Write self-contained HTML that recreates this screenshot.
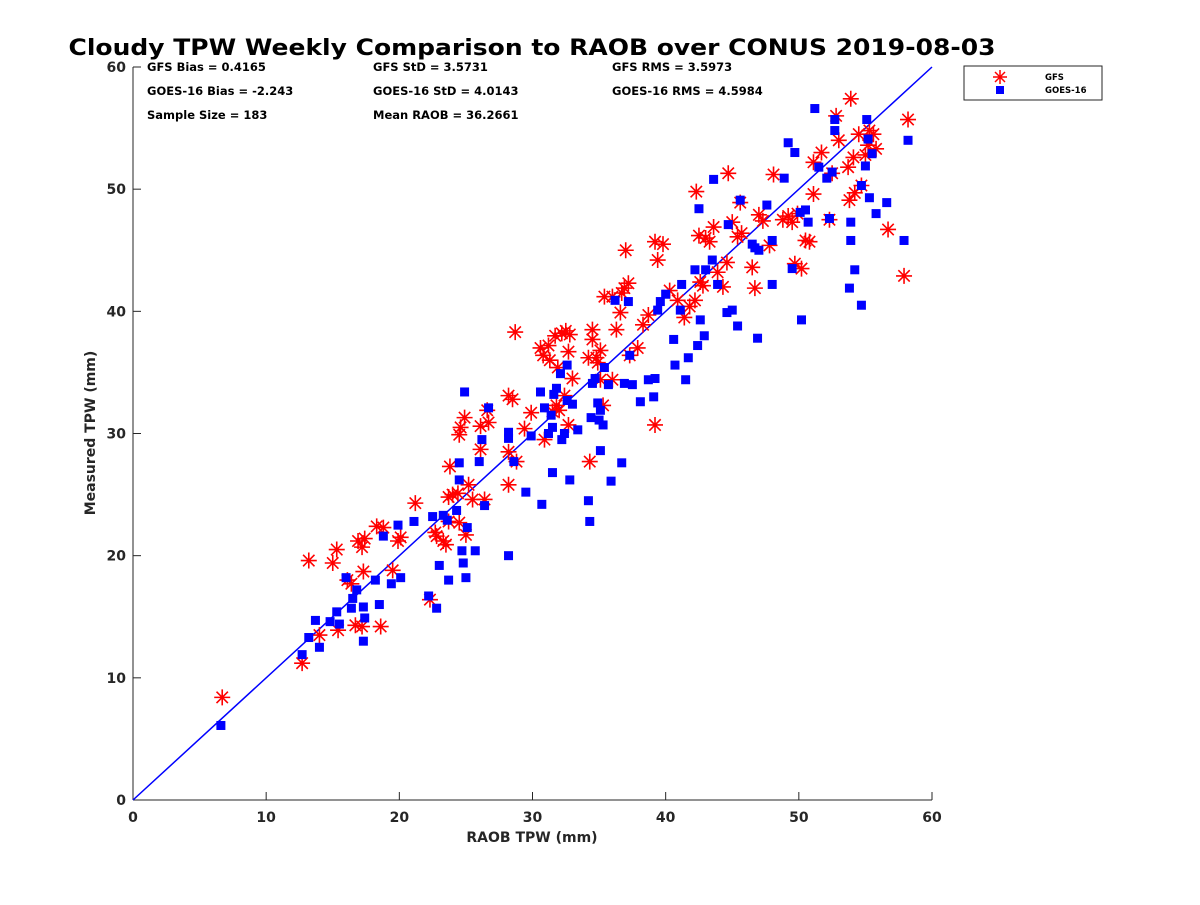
<!DOCTYPE html>
<html><head><meta charset="utf-8"><style>
body{margin:0;background:#fff;font-family:"Liberation Sans",sans-serif}
svg text{font-family:"DejaVu Sans","Liberation Sans",sans-serif;font-weight:bold}
</style></head><body>
<svg id="c" width="1200" height="900" xmlns="http://www.w3.org/2000/svg">
<text x="532" y="55" font-size="22" text-anchor="middle" textLength="927" lengthAdjust="spacingAndGlyphs">Cloudy TPW Weekly Comparison to RAOB over CONUS 2019-08-03</text>
<g font-size="11.5">
<text x="147" y="71">GFS Bias = 0.4165</text>
<text x="373" y="71">GFS StD = 3.5731</text>
<text x="612" y="71">GFS RMS = 3.5973</text>
<text x="147" y="95">GOES-16 Bias = -2.243</text>
<text x="373" y="95">GOES-16 StD = 4.0143</text>
<text x="612" y="95">GOES-16 RMS = 4.5984</text>
<text x="147" y="119">Sample Size = 183</text>
<text x="373" y="119">Mean RAOB = 36.2661</text>
</g>
<text x="532" y="842" font-size="14" text-anchor="middle" fill="#262626">RAOB TPW (mm)</text>
<text transform="translate(95,433) rotate(-90)" font-size="14" text-anchor="middle" fill="#262626">Measured TPW (mm)</text>
<g id="axes"></g>
<g id="marks"></g>
<g>
<rect x="964" y="66" width="138" height="34" fill="#fff" stroke="#262626" stroke-width="1"/>
<g stroke="red" stroke-width="1.5"><line x1="1000" y1="70" x2="1000" y2="84"/><line x1="993" y1="77" x2="1007" y2="77"/><line x1="995" y1="72" x2="1005" y2="82"/><line x1="995" y1="82" x2="1005" y2="72"/></g>
<rect x="996" y="86" width="8" height="8" fill="#00f"/>
<text x="1045" y="80" font-size="8.5">GFS</text>
<text x="1045" y="93" font-size="8.5">GOES-16</text>
</g>
</svg>
<script>
const xTicks=[0,10,20,30,40,50,60];
const yTicks=[0,10,20,30,40,50,60];
const gfsX=[6.7,12.7,13.2,14,15,15.3,15.4,16.1,16.4,16.7,16.9,17.2,17.2,17.4,17.3,18.3,18.6,18.8,19.5,19.9,20.1,21.2,22.3,22.7,22.8,23.3,23.5,23.7,23.7,23.8,24,24.5,24.4,24.5,24.6,24.9,25,25.2,25.5,26.1,26.1,26.4,26.6,26.7,28.2,28.2,28.2,28.5,28.7,28.8,29.4,29.9,30.6,30.8,30.9,31.2,31.3,31.5,31.7,31.8,31.9,32.2,32.5,32.8,32.7,33,32.7,32,32.4,34.3,34.2,34.5,34.5,34.8,34.9,35.1,35.1,35.3,35.4,36,36,36.3,36.6,36.7,36.9,37,37.2,37.3,37.9,38.3,38.7,39.2,39.2,39.4,39.8,40.3,40.9,41.4,41.8,42.2,42.3,42.6,42.8,42.5,43,43.3,43.6,43.9,44.3,44.6,44.7,45,45.4,45.6,45.7,46.5,46.7,47,47.3,47.8,48.1,48.8,49.2,49.5,49.7,49.9,50.2,50.5,50.8,51.1,51.1,51.7,52.3,52.5,52.8,53,53.7,53.8,53.9,54.1,54.2,54.5,54.7,55,55.2,55.3,55.6,55.8,56.7,57.9,58.2];
const gfsY=[8.4,11.2,19.6,13.5,19.4,20.5,13.9,18,17.7,14.3,21.2,20.7,14.2,21.4,18.7,22.4,14.2,22.3,18.8,21.2,21.5,24.3,16.4,21.9,21.6,21.2,20.9,22.8,24.8,27.3,25,22.7,25.1,29.9,30.5,31.3,21.7,25.8,24.6,30.6,28.7,24.6,31.9,30.9,28.5,33.1,25.8,32.8,38.3,27.7,30.4,31.7,37,36.4,29.5,37.2,36,31.8,38,32.3,35.4,38.2,38.4,38.1,36.7,34.5,30.7,31.9,33.1,27.7,36.2,37.7,38.5,36.2,35.8,36.8,34.4,32.3,41.2,41.2,34.4,38.5,39.9,41.5,41.9,45,42.3,36.4,37,38.9,39.7,45.7,30.7,44.2,45.5,41.7,40.9,39.5,40.4,40.9,49.8,42.4,42.1,46.2,46,45.7,46.9,43.2,42,44,51.3,47.3,46.1,48.9,46.4,43.6,41.9,47.9,47.4,45.4,51.2,47.5,47.8,47.3,43.9,48,43.5,45.8,45.7,52.2,49.6,53,47.5,51.3,56,54,51.8,49.1,57.4,52.6,49.7,54.5,50.3,52.8,53.6,54.8,54.5,53.3,46.7,42.9,55.7];
const goesX=[6.6,12.7,13.2,13.7,14,14.8,15.3,15.5,16,16.4,16.5,16.8,17.3,17.3,17.4,18.2,18.5,18.8,19.4,19.9,20.1,21.1,22.2,22.5,22.8,23,23.3,23.6,23.7,24.3,24.5,24.5,24.7,24.8,24.9,25,25.1,25.7,26,26.2,26.4,26.7,28.2,28.2,28.2,28.6,29.5,29.9,30.6,30.7,30.9,31.2,31.4,31.5,31.5,31.6,31.8,32.1,32.2,32.4,32.6,32.6,32.8,33,33.4,34.2,34.3,34.4,34.5,34.7,34.9,35,35.1,35.1,35.3,35.4,35.7,35.9,36.2,36.7,36.9,37.2,37.3,37.5,38.1,38.7,39.1,39.2,39.4,39.6,40,40.6,40.7,41.1,41.2,41.5,41.7,42.2,42.4,42.5,42.6,42.9,43,43.5,43.6,43.9,44.7,44.6,45,45.4,45.6,46.5,46.7,46.9,47,47.6,48,48,48.9,49.2,49.5,49.7,50.1,50.2,50.5,50.7,51.2,51.5,52.1,52.3,52.5,52.7,52.7,53.8,53.9,53.9,54.2,54.7,54.7,55,55.1,55.2,55.3,55.5,55.8,56.6,57.9,58.2];
const goesY=[6.1,11.9,13.3,14.7,12.5,14.6,15.4,14.4,18.2,15.7,16.5,17.2,15.8,13,14.9,18,16,21.6,17.7,22.5,18.2,22.8,16.7,23.2,15.7,19.2,23.3,22.9,18,23.7,27.6,26.2,20.4,19.4,33.4,18.2,22.3,20.4,27.7,29.5,24.1,32.1,29.6,20,30.1,27.7,25.2,29.8,33.4,24.2,32.1,30,31.5,30.5,26.8,33.2,33.7,34.9,29.5,30,35.6,32.7,26.2,32.4,30.3,24.5,22.8,31.3,34.1,34.5,32.5,31.1,31.9,28.6,30.7,35.4,34,26.1,40.9,27.6,34.1,40.8,36.4,34,32.6,34.4,33,34.5,40.1,40.8,41.4,37.7,35.6,40.1,42.2,34.4,36.2,43.4,37.2,48.4,39.3,38,43.4,44.2,50.8,42.2,47.1,39.9,40.1,38.8,49.1,45.5,45.2,37.8,45,48.7,42.2,45.8,50.9,53.8,43.5,53,48.1,39.3,48.3,47.3,56.6,51.8,50.9,47.6,51.4,55.7,54.8,41.9,45.8,47.3,43.4,50.3,40.5,51.9,55.7,54.1,49.3,52.9,48,48.9,45.8,54];
const X0=133,X1=932,Y0=800,Y1=67;
const sx=v=>X0+(v-0)/60*(X1-X0);
const sy=v=>Y0-(v-0)/60*(Y0-Y1);
const NS='http://www.w3.org/2000/svg';
function mk(tag,attrs,parent){const e=document.createElementNS(NS,tag);for(const k in attrs)e.setAttribute(k,attrs[k]);parent.appendChild(e);return e;}
const axes=document.getElementById('axes'),marks=document.getElementById('marks');
let a=mk('line',{x1:X0,y1:Y0,x2:X1,y2:Y0,stroke:'#262626','stroke-width':1},axes);


a=mk('line',{x1:X0,y1:Y0,x2:X0,y2:Y1,stroke:'#262626','stroke-width':1},axes);


xTicks.forEach(t=>{
 mk('line',{x1:sx(t),y1:Y0,x2:sx(t),y2:Y0-8,stroke:'#262626'},axes);
 const tx=mk('text',{x:sx(t),y:Y0+22,'font-size':14,'text-anchor':'middle',fill:'#262626'},axes);tx.textContent=t;
 
 
});
yTicks.forEach(t=>{
 mk('line',{x1:X0,y1:sy(t),x2:X0+8,y2:sy(t),stroke:'#262626'},axes);
 const tx=mk('text',{x:X0-7,y:sy(t)+5,'font-size':14,'text-anchor':'end',fill:'#262626'},axes);tx.textContent=t;
 
 
});
const ln=mk('line',{x1:sx(0),y1:sy(0),x2:sx(60),y2:sy(60),stroke:'#0000ff','stroke-width':1.5},marks);


const gg=mk('g',{},marks);


gfsX.forEach((v,i)=>{
 const cx=sx(v),cy=sy(gfsY[i]),r=8,d=5.7;
 mk('path',{d:`M${cx} ${cy-r}V${cy+r}M${cx-r} ${cy}H${cx+r}M${cx-d} ${cy-d}L${cx+d} ${cy+d}M${cx-d} ${cy+d}L${cx+d} ${cy-d}`,stroke:'#ff0000','stroke-width':1.6,fill:'none'},gg);
});
const gb=mk('g',{},marks);


goesX.forEach((v,i)=>{
 mk('rect',{x:sx(v)-4.5,y:sy(goesY[i])-4.5,width:9,height:9,fill:'#0000ff'},gb);
});
</script>
</body></html>
